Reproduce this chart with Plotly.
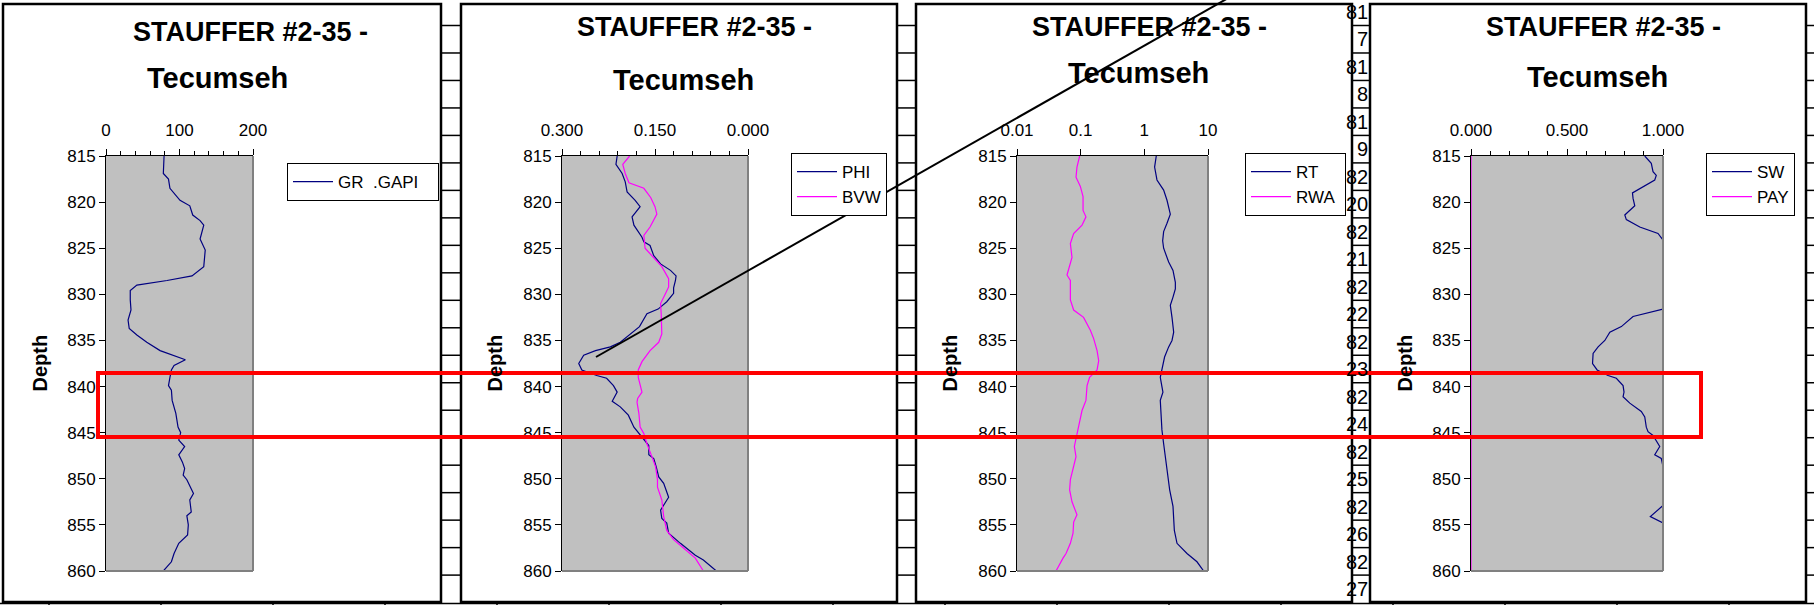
import plotly.graph_objects as go

W, H = 1814, 605
FONT = "Liberation Sans, Arial, sans-serif"

# ---------------- data ----------------
gr_depth = [815, 816.9, 817.5, 818.5, 819.8, 820.4, 821.4, 822, 822.5, 824, 825.2, 827, 828, 828.5,
            829, 829.6, 830.6, 831.7, 832.8, 833.7, 834.4, 835.2, 836.1, 836.7, 837.1, 837.7, 838.2,
            839, 839.9, 840.4, 841.5, 842.9, 844.4, 845, 845.8, 846.5, 847.4, 848.2, 848.9, 849.6,
            850.1, 851.6, 852.3, 853.6, 854, 855, 856.1, 857, 858.1, 859, 860]
gr = [79, 78, 85, 87, 100.7, 114, 118, 128, 133, 128, 135, 133, 117, 83,
      42, 33, 33, 34, 30, 31.6, 42, 55.5, 73.6, 96, 108, 92.6, 89,
      87, 85, 89, 90, 95, 98, 101.6, 99, 107, 99, 104, 107, 105,
      110, 119, 114, 116, 110, 112, 111, 99, 92.6, 89, 78]

phi_depth = [815, 815.9, 816.9, 817.8, 818.9, 819.4, 819.8, 820.5, 821.6, 822.5, 823.8, 824.3, 824.7,
             825.8, 826.7, 827.4, 828, 828.5, 829.3, 829.9, 830.8, 831.6, 832.1, 833.5, 834.3, 835.2,
             835.7, 836.1, 836.6, 837.5, 838.2, 838.8, 839.1, 839.9, 840.6, 841.6, 842.2, 843.1,
             844.4, 845.1, 845.8, 846.4, 847.4, 847.8, 848.7, 849.8, 850.5, 852, 853.4, 854.3,
             854.8, 855.9, 857, 858.3, 858.8, 859.4, 860]
phi = [0.211, 0.213, 0.203, 0.198, 0.195, 0.187, 0.182, 0.174, 0.187, 0.184, 0.171, 0.168, 0.158,
       0.152, 0.141, 0.125, 0.116, 0.117, 0.120, 0.120, 0.131, 0.145, 0.163, 0.175, 0.190, 0.206,
       0.222, 0.246, 0.265, 0.273, 0.268, 0.244, 0.228, 0.217, 0.211, 0.219, 0.206, 0.193,
       0.184, 0.176, 0.168, 0.160, 0.160, 0.152, 0.148, 0.144, 0.136, 0.128, 0.141, 0.139,
       0.131, 0.128, 0.109, 0.085, 0.072, 0.061, 0.051]

bvw_depth = [815, 815.9, 816.9, 817.9, 818.5, 819.5, 820.5, 821.3, 822.7, 823.6, 825, 826.1, 827,
             828.3, 829.2, 829.9, 831, 832.1, 834.3, 835.2, 836.1, 837.3, 838.2, 839, 840, 840.6,
             841.3, 841.7, 842.9, 844.4, 845.1, 846.2, 847.6, 848.7, 850.1, 850.9, 852.3, 854.1,
             855.6, 856.6, 857.5, 858.6, 860]
bvw = [0.191, 0.202, 0.198, 0.192, 0.168, 0.157, 0.150, 0.147, 0.158, 0.168, 0.166, 0.152, 0.139,
       0.128, 0.128, 0.133, 0.141, 0.140, 0.139, 0.144, 0.158, 0.171, 0.177, 0.177, 0.173, 0.171,
       0.178, 0.179, 0.176, 0.174, 0.168, 0.163, 0.155, 0.149, 0.146, 0.146, 0.139, 0.136,
       0.131, 0.120, 0.104, 0.085, 0.072]

rt_depth = [815, 816.2, 817.6, 818.7, 819.8, 821.3, 822.3, 823.2, 824.2, 825, 826.5, 827.4, 828.7,
            829.4, 830.3, 831.2, 832.5, 834.1, 835, 835.7, 836.8, 838.2, 839, 840, 840.6, 841.5,
            843.3, 844.7, 846.2, 848.7, 851.2, 853, 855.6, 857, 858.1, 859, 860]
rt = [1.54, 1.45, 1.58, 2.01, 2.27, 2.56, 2.27, 2.01, 1.94, 2.01, 2.41, 2.82, 3.07,
      3.07, 2.82, 2.56, 2.72, 2.89, 2.72, 2.41, 2.08, 1.89, 1.78, 1.89, 1.96, 1.78,
      1.83, 1.89, 2.01, 2.27, 2.50, 2.82, 2.96, 3.26, 4.68, 6.71, 8.55]

rwa_depth = [815, 816.2, 817.3, 818.3, 819.4, 820.9, 821.6, 822.5, 823.4, 824.5, 826, 827.9, 828.5,
             830.6, 831.7, 832.5, 833.9, 834.8, 836.1, 837.2, 838.2, 839, 839.9, 841.5, 842.6,
             844.4, 845.5, 846.5, 847.6, 848.7, 850.1, 851.2, 852.5, 853.9, 854.7, 855.9, 857,
             858.1, 858.6, 860]
rwa = [0.0964, 0.0875, 0.0845, 0.0989, 0.109, 0.109, 0.121, 0.105, 0.0776, 0.0689, 0.0731, 0.0610, 0.0689,
       0.0689, 0.0776, 0.111, 0.142, 0.160, 0.181, 0.192, 0.181, 0.138, 0.126, 0.121, 0.105,
       0.0931, 0.0855, 0.0796, 0.0845, 0.0776, 0.0689, 0.0671, 0.0731, 0.0875, 0.0776, 0.0759, 0.0689,
       0.0589, 0.0528, 0.0410]

sw_depth = [815, 815.8, 816.7, 817.1, 817.6, 818.5, 819, 819.6, 820.4, 821.4, 821.9, 822.7, 823.4,
            824.1, 825, 827, 829, 831, 831.6, 832.4, 833.5, 834.1, 835, 835.7, 836.4, 837.5, 838.2,
            838.8, 839.1, 839.9, 840.6, 841.1, 841.8, 842.7, 843.3, 844.4, 844.9, 845.3, 846.5,
            847.4, 847.8, 848.7, 850, 851.5, 852.9, 854.1, 854.8, 856, 858, 860]
sw = [0.905, 0.939, 0.948, 0.965, 0.957, 0.887, 0.841, 0.844, 0.853, 0.801, 0.809, 0.879, 0.974,
      1.0, 1.1, 1.2, 1.2, 1.08, 1.0, 0.844, 0.783, 0.723, 0.697, 0.662, 0.636, 0.633, 0.657,
      0.714, 0.757, 0.792, 0.797, 0.792, 0.827, 0.887, 0.905, 0.913, 0.922, 0.948, 0.983,
      0.957, 0.991, 1.0, 1.06, 1.06, 1.0, 0.934, 1.0, 1.06, 1.1, 1.1]

pay_depth = [815, 860]
pay = [0.0, 0.0]

gap_cell_text = ["81", "7", "81", "8", "81", "9", "82", "20", "82", "21", "82", "22",
                 "82", "23", "82", "24", "82", "25", "82", "26", "82", "27"]

title_line1 = "STAUFFER #2-35 -"
title_line2 = "Tecumseh"

# ---------------- helpers ----------------
def fx(x):
    return x / W

def fy(y):
    return 1 - y / H

NAVY = "#000080"
MAG = "#FF00FF"
NB = "\u00a0"

plot_x = [(106, 253), (562, 748), (1017, 1208), (1471, 1663)]
ydom = [fy(571), fy(156)]

fig = go.Figure()

def add_line(x, y, name, color, idx, legend):
    fig.add_trace(go.Scatter(
        x=x, y=y, mode="lines", name=name,
        line=dict(color=color, width=1.2),
        xaxis="x" if idx == 1 else f"x{idx}",
        yaxis="y" if idx == 1 else f"y{idx}",
        legend=legend, showlegend=True, cliponaxis=True))

add_line(gr, gr_depth, "GR" + NB + " .GAPI" + NB * 3, NAVY, 1, "legend")
add_line(phi, phi_depth, "PHI", NAVY, 2, "legend2")
add_line(bvw, bvw_depth, "BVW", MAG, 2, "legend2")
add_line(rt, rt_depth, "RT", NAVY, 3, "legend3")
add_line(rwa, rwa_depth, "RWA" + NB, MAG, 3, "legend3")
add_line(sw, sw_depth, "SW", NAVY, 4, "legend4")
add_line(pay, pay_depth, "PAY", MAG, 4, "legend4")

tickfont = dict(family=FONT, size=17, color="black")

def xaxis_cfg(i, **kw):
    d = dict(domain=[fx(plot_x[i][0]), fx(plot_x[i][1])],
             anchor="y" if i == 0 else f"y{i+1}", side="top",
             showline=True, linecolor="black", linewidth=1, mirror=False,
             ticks="outside", ticklen=6, tickcolor="black", tickwidth=1,
             ticklabelstandoff=6,
             showgrid=False, zeroline=False, tickfont=tickfont, fixedrange=True,
             layer="below traces", automargin=False)
    d.update(kw)
    return d

def yaxis_cfg(i):
    return dict(domain=ydom, anchor="x" if i == 0 else f"x{i+1}",
                range=[860, 815], tickmode="linear", tick0=815, dtick=5,
                showline=True, linecolor="black", linewidth=1,
                ticks="outside", ticklen=6, tickcolor="black",
                showgrid=False, zeroline=False, tickfont=tickfont, fixedrange=True,
                layer="below traces", automargin=False)

minor_cfg = lambda dt: dict(dtick=dt, ticks="outside", ticklen=4, tickcolor="black", showgrid=False)

layout = dict(
    width=W, height=H, autosize=False,
    margin=dict(l=0, r=0, t=0, b=0, pad=0, autoexpand=False),
    paper_bgcolor="white", plot_bgcolor="#C0C0C0",
    font=dict(family=FONT, size=17, color="black"),
    xaxis=xaxis_cfg(0, range=[0, 200], tickvals=[0, 100, 200], minor=minor_cfg(20)),
    xaxis2=xaxis_cfg(1, range=[0.3, 0], tickvals=[0.3, 0.15, 0.0], tickformat=".3f",
                     minor=dict(tickvals=[0.03 * k for k in range(11)], ticks="outside",
                                ticklen=4, tickcolor="black", showgrid=False)),
    xaxis3=xaxis_cfg(2, type="log", range=[-2, 1], tickvals=[0.01, 0.1, 1, 10],
                     ticktext=["0.01", "0.1", "1", "10"]),
    xaxis4=xaxis_cfg(3, range=[0, 1], tickvals=[0, 0.5, 1.0], tickformat=".3f",
                     minor=minor_cfg(0.1)),
    yaxis=yaxis_cfg(0), yaxis2=yaxis_cfg(1), yaxis3=yaxis_cfg(2), yaxis4=yaxis_cfg(3),
)

leg_common = dict(bgcolor="white", bordercolor="black", borderwidth=1,
                  font=dict(family=FONT, size=17, color="black"),
                  xanchor="left", yanchor="top", itemwidth=40, tracegroupgap=0,
                  itemclick=False, itemdoubleclick=False)
layout["legend"] = dict(leg_common, x=fx(287), y=fy(163))
layout["legend2"] = dict(leg_common, x=fx(791), y=fy(153))
layout["legend3"] = dict(leg_common, x=fx(1245), y=fy(153))
layout["legend4"] = dict(leg_common, x=fx(1706), y=fy(153))
fig.update_layout(**layout)

shapes = []
# spreadsheet grid lines in the gaps
row_lines = [25.5 + 27.48 * k for k in range(21)]
for (a, b) in [(441, 461), (897, 916), (1352, 1370), (1806, 1814)]:
    for yy in row_lines:
        shapes.append(dict(type="line", xref="paper", yref="paper", x0=fx(a), x1=fx(b),
                           y0=fy(yy), y1=fy(yy), line=dict(color="black", width=1.5)))
# bottom row line and column ticks
shapes.append(dict(type="line", xref="paper", yref="paper", x0=0, x1=1, y0=fy(603.5), y1=fy(603.5),
                   line=dict(color="black", width=1.5)))
for k in range(16):
    xx = 49 + 112 * k
    shapes.append(dict(type="line", xref="paper", yref="paper", x0=fx(xx), x1=fx(xx),
                       y0=fy(603), y1=fy(606), line=dict(color="black", width=1.5)))
# chart frames
for (a, b) in [(3, 441), (461, 897), (916, 1352), (1370, 1806)]:
    shapes.append(dict(type="rect", xref="paper", yref="paper", x0=fx(a), x1=fx(b),
                       y0=fy(602), y1=fy(4), line=dict(color="black", width=2.5),
                       fillcolor="rgba(0,0,0,0)"))
# plot-area gray border (right and bottom)
for i in range(4):
    xr = "x domain" if i == 0 else f"x{i+1} domain"
    yr = "y domain" if i == 0 else f"y{i+1} domain"
    shapes.append(dict(type="line", xref=xr, yref=yr, x0=1, x1=1, y0=0, y1=1,
                       line=dict(color="#808080", width=2), layer="above"))
    shapes.append(dict(type="line", xref=xr, yref=yr, x0=0, x1=1, y0=0, y1=0,
                       line=dict(color="#808080", width=2), layer="above"))
# red highlight box
shapes.append(dict(type="rect", xref="paper", yref="paper", x0=fx(98), x1=fx(1701),
                   y0=fy(437), y1=fy(373), line=dict(color="#FF0000", width=4),
                   fillcolor="rgba(0,0,0,0)", layer="above"))
# black pointer line
shapes.append(dict(type="line", xref="paper", yref="paper", x0=fx(596), y0=fy(357),
                   x1=fx(1230), y1=fy(-3), line=dict(color="black", width=2), layer="above"))
fig.update_layout(shapes=shapes)

ann = []
titles = [((250, 32), (217, 78.5)), ((694, 27), (683, 80.5)),
          ((1149, 27), (1138, 72.5)), ((1603, 27.5), (1597, 77))]
for (p1, p2) in titles:
    for (txt, (xx, yy), sz) in [(title_line1, p1, 27), (title_line2, p2, 29)]:
        ann.append(dict(text=f"<b>{txt}</b>", xref="paper", yref="paper", x=fx(xx), y=fy(yy),
                        xanchor="center", yanchor="middle", showarrow=False,
                        font=dict(family=FONT, size=sz, color="black")))
for xx in [40, 495, 950, 1405]:
    ann.append(dict(text="<b>Depth</b>", xref="paper", yref="paper", x=fx(xx), y=fy(363.5),
                    xanchor="center", yanchor="middle", showarrow=False, textangle=-90,
                    font=dict(family=FONT, size=20, color="black")))
for k, t in enumerate(gap_cell_text):
    yc = 12 + 27.48 * k
    ann.append(dict(text=t, xref="paper", yref="paper", x=fx(1370), y=fy(yc),
                    xanchor="right", yanchor="middle", showarrow=False,
                    font=dict(family=FONT, size=20, color="black")))
fig.update_layout(annotations=ann)

fig.write_html("out.html", config={"displayModeBar": False, "staticPlot": False},
               post_script="document.body.style.margin='0';document.body.style.padding='0';"
                           "document.body.style.overflow='hidden';")
